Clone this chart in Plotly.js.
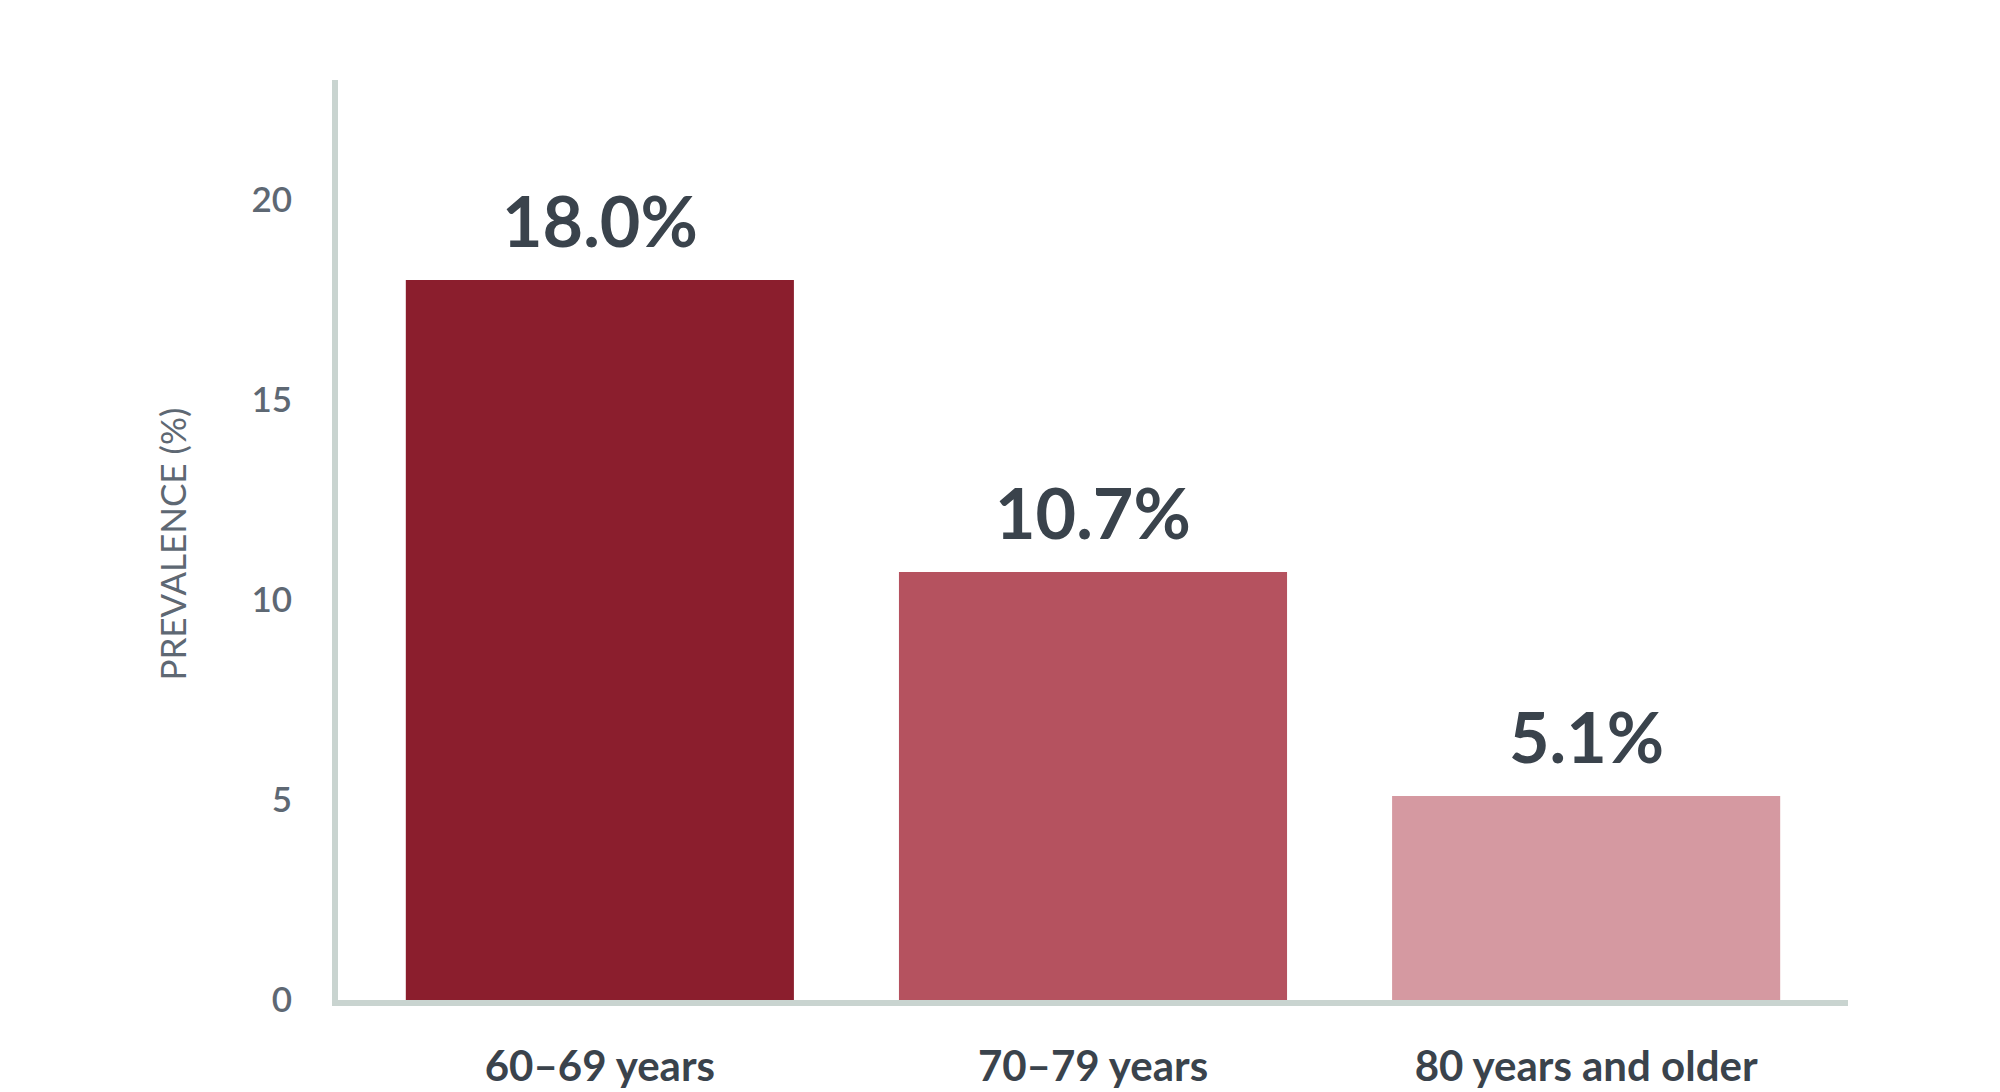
<!DOCTYPE html>
<html>
<head>
<meta charset="utf-8">
<script src="https://cdn.plot.ly/plotly-3.0.1.min.js"></script>
<style>
  html, body { margin: 0; padding: 0; background: #fff; }
  #chart { width: 2000px; height: 1092px; }
</style>
</head>
<body>
<div id="chart"></div>
<script>
// age groups and prevalence values
var ageGroups = ['60–69 years', '70–79 years', '80 years and older'];
var prevalence = [18.0, 10.7, 5.1];
var valueLabels = ['18.0%', '10.7%', '5.1%'];
var barColors = ['#8b1e2d', '#b5525f', '#d599a1'];
var yTicks = [0, 5, 10, 15, 20];

var trace = {
  x: ageGroups,
  y: prevalence,
  type: 'bar',
  width: 0.787,
  marker: { color: barColors },
  hoverinfo: 'none'
};

// value labels above the bars
var notes = ageGroups.map(function (g, i) {
  return {
    x: g,
    y: prevalence[i],
    text: valueLabels[i],
    showarrow: false,
    yanchor: 'bottom',
    yshift: 16,
    font: { family: 'Lato', size: 70, color: '#3a434c', weight: 700 }
  };
});

// y title as an annotation
notes.push({
  xref: 'paper', yref: 'paper',
  x: -0.11, y: 0.496,
  xanchor: 'center', yanchor: 'middle',
  text: 'PREVALENCE (%)',
  textangle: -90,
  showarrow: false,
  font: { family: 'Lato', size: 35, color: '#5e6873' }
});

var layout = {
  width: 2000,
  height: 1092,
  margin: { l: 338, r: 152, t: 80, b: 92 },
  paper_bgcolor: '#ffffff',
  plot_bgcolor: '#ffffff',
  showlegend: false,
  xaxis: {
    type: 'category',
    range: [-0.531, 2.531],
    showline: true,
    linecolor: '#c9d4d0',
    linewidth: 6,
    showgrid: false,
    zeroline: false,
    ticks: '',
    ticklabelstandoff: 25,
    tickfont: { family: 'Lato', size: 42, color: '#3a434c', weight: 700 }
  },
  yaxis: {
    range: [0, 23],
    tickvals: yTicks,
    showline: true,
    linecolor: '#c9d4d0',
    linewidth: 6,
    showgrid: false,
    zeroline: false,
    ticks: '',
    ticklabelstandoff: 33,
    tickfont: { family: 'Lato', size: 35, color: '#5e6873', weight: 600 }
  },
  annotations: notes
};

Plotly.newPlot('chart', [trace], layout, { displayModeBar: false, staticPlot: true });
</script>
</body>
</html>
